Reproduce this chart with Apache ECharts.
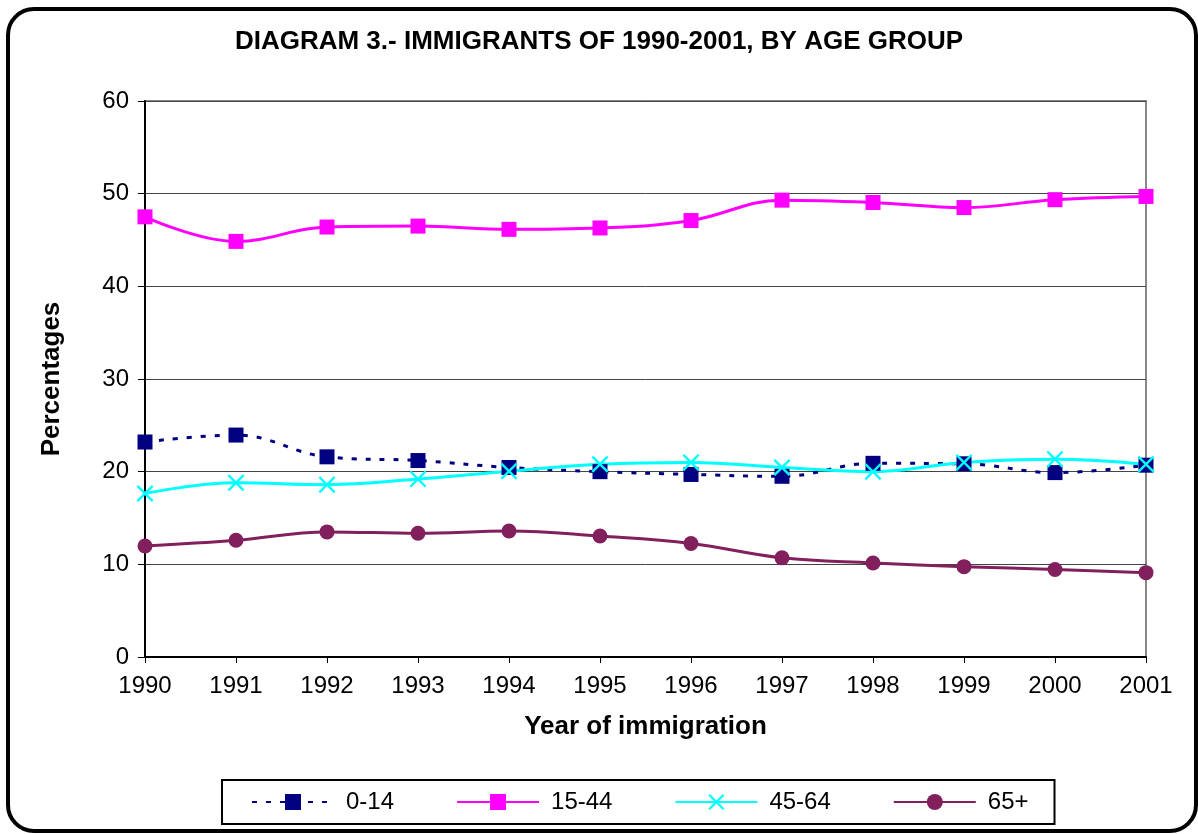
<!DOCTYPE html>
<html>
<head>
<meta charset="utf-8">
<script src="https://cdn.jsdelivr.net/npm/echarts@6/dist/echarts.min.js"></script>
<style>
  html, body { margin: 0; padding: 0; background: #fff; }
  #chart { width: 1198px; height: 834px; }
</style>
</head>
<body>
<div id="chart"></div>
<script>
// values
const years = ['1990', '1991', '1992', '1993', '1994', '1995', '1996', '1997', '1998', '1999', '2000', '2001'];
const age0to14 = [23.2, 23.95, 21.6, 21.2, 20.45, 20.0, 19.7, 19.5, 20.9, 20.85, 19.9, 20.7];
const age15to44 = [47.5, 44.85, 46.4, 46.5, 46.15, 46.3, 47.1, 49.3, 49.05, 48.5, 49.35, 49.7];
const age45to64 = [17.65, 18.8, 18.6, 19.2, 20.05, 20.8, 21.0, 20.45, 20.0, 21.0, 21.35, 20.8];
const age65plus = [11.98, 12.6, 13.5, 13.35, 13.6, 13.05, 12.25, 10.7, 10.15, 9.75, 9.45, 9.1];
const seriesNames = ['0-14', '15-44', '45-64', '65+'];

const font = 'Liberation Sans, Arial, sans-serif';
const crossPath = 'path://M0,1L1,0L5,4L9,0L10,1L6,5L10,9L9,10L5,6L1,10L0,9L4,5Z';

const chartDom = document.getElementById('chart');
const myChart = echarts.init(chartDom);

const options = {
  backgroundColor: '#fff',
  animation: false,
  textStyle: { fontFamily: font, color: '#000' },
  title: {
    text: 'DIAGRAM 3.- IMMIGRANTS OF 1990-2001, BY AGE GROUP',
    left: 'center',
    top: 24,
    textStyle: { fontFamily: font, fontSize: 26, fontWeight: 'bold', color: '#000' }
  },
  graphic: [
    {
      type: 'rect',
      shape: { x: 8, y: 9, width: 1188, height: 822, r: 26 },
      style: { fill: 'none', stroke: '#000', lineWidth: 4 },
      silent: true,
      z: 100
    }
  ],
  legend: {
    data: seriesNames,
    left: 222,
    top: 780,
    orient: 'horizontal',
    borderColor: '#000',
    borderWidth: 2,
    padding: [10, 26, 10, 29],
    itemWidth: 82,
    itemHeight: 20,
    itemGap: 62,
    textStyle: { fontFamily: font, fontSize: 24, color: '#000', padding: [0, 0, 0, 7] }
  },
  grid: {
    left: 145,
    right: 52,
    top: 101,
    bottom: 177,
    show: true,
    borderColor: '#888',
    borderWidth: 2,
    backgroundColor: 'transparent'
  },
  xAxis: {
    type: 'category',
    data: years,
    boundaryGap: false,
    name: 'Year of immigration',
    nameLocation: 'middle',
    nameGap: 57,
    nameTextStyle: { fontFamily: font, fontSize: 26, fontWeight: 'bold', color: '#000' },
    axisLine: { lineStyle: { color: '#000', width: 2 } },
    axisTick: { show: true, length: 6, lineStyle: { color: '#000' } },
    axisLabel: { fontFamily: font, fontSize: 24, color: '#000', margin: 17 },
    splitLine: { show: false }
  },
  yAxis: {
    type: 'value',
    min: 0,
    max: 60,
    interval: 10,
    name: 'Percentages',
    nameLocation: 'middle',
    nameRotate: 90,
    nameGap: 80,
    nameTextStyle: { fontFamily: font, fontSize: 26, fontWeight: 'bold', color: '#000' },
    axisLine: { show: true, lineStyle: { color: '#000', width: 2 } },
    axisTick: { show: true, length: 7, lineStyle: { color: '#000' } },
    axisLabel: { fontFamily: font, fontSize: 24, color: '#000', margin: 16 },
    splitLine: { show: true, lineStyle: { color: '#444', width: 1 } }
  },
  series: [
    {
      name: '0-14',
      type: 'line',
      data: age0to14,
      smooth: 0.4,
      symbol: 'rect',
      symbolSize: 15,
      itemStyle: { color: '#000080' },
      lineStyle: { color: '#000080', width: 3, type: [5, 9] }
    },
    {
      name: '15-44',
      type: 'line',
      data: age15to44,
      smooth: 0.4,
      symbol: 'rect',
      symbolSize: 15,
      itemStyle: { color: '#FF00FF' },
      lineStyle: { color: '#FF00FF', width: 3 }
    },
    {
      name: '45-64',
      type: 'line',
      data: age45to64,
      smooth: 0.4,
      symbol: crossPath,
      symbolSize: 17,
      itemStyle: { color: '#00FFFF' },
      lineStyle: { color: '#00FFFF', width: 3 }
    },
    {
      name: '65+',
      type: 'line',
      data: age65plus,
      smooth: 0.4,
      symbol: 'circle',
      symbolSize: 15,
      itemStyle: { color: '#82205E' },
      lineStyle: { color: '#82205E', width: 3 }
    }
  ]
};

myChart.setOption(options);
</script>
</body>
</html>
